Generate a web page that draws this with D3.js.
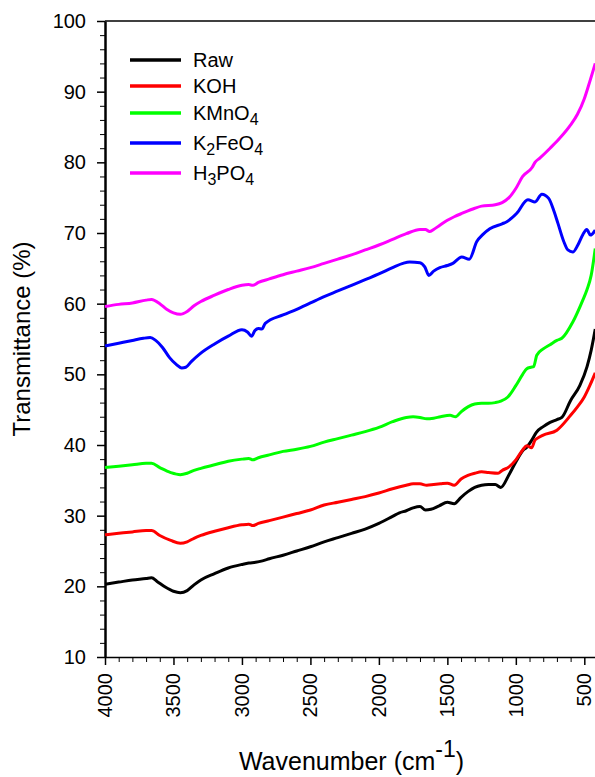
<!DOCTYPE html>
<html>
<head>
<meta charset="utf-8">
<script src="https://cdn.jsdelivr.net/npm/d3@7"></script>
<style>
  body { margin: 0; background: #fff; }
  text { font-family: "Liberation Sans", Arial, sans-serif; fill: #000; }
</style>
</head>
<body>
<div id="chart"></div>
<script>
// ---- data (wavenumber cm-1, transmittance %) ----
const rawData = [
  [4000, 20.3], [3900, 20.6], [3800, 20.9], [3700, 21.1], [3660, 21.2], [3620, 20.7], [3560, 19.9],
  [3500, 19.3], [3450, 19.1], [3400, 19.4], [3350, 20.2], [3300, 20.9], [3200, 21.8], [3100, 22.6],
  [3000, 23.1], [2950, 23.3], [2900, 23.4], [2850, 23.6], [2800, 23.9], [2700, 24.4], [2600, 25.0],
  [2500, 25.6], [2400, 26.3], [2300, 26.9], [2200, 27.5], [2100, 28.1], [2000, 28.9], [1900, 29.9],
  [1850, 30.4], [1800, 30.7], [1750, 31.1], [1700, 31.3], [1660, 30.8], [1620, 30.9], [1560, 31.4],
  [1500, 31.9], [1450, 31.7], [1400, 32.6], [1350, 33.4], [1300, 34.0], [1250, 34.3], [1200, 34.4],
  [1150, 34.4], [1110, 34.0], [1050, 35.8], [1000, 37.6], [950, 39.2], [920, 39.7], [880, 40.8],
  [850, 41.8], [800, 42.6], [750, 43.2], [700, 43.6], [664, 43.9], [600, 46.3], [533, 48.4],
  [480, 51.1], [450, 53.4], [420, 56.4]
];
const kohData = [
  [4000, 27.3], [3900, 27.5], [3800, 27.7], [3700, 27.9], [3660, 27.9], [3600, 27.2], [3520, 26.5],
  [3450, 26.1], [3400, 26.3], [3350, 26.8], [3300, 27.2], [3200, 27.8], [3100, 28.3], [3000, 28.7],
  [2950, 28.8], [2920, 28.6], [2880, 28.9], [2800, 29.3], [2700, 29.8], [2600, 30.3], [2500, 30.8],
  [2400, 31.5], [2300, 31.9], [2200, 32.3], [2100, 32.7], [2000, 33.2], [1900, 33.8], [1800, 34.3],
  [1750, 34.5], [1700, 34.5], [1650, 34.3], [1600, 34.4], [1550, 34.5], [1500, 34.6], [1450, 34.3],
  [1400, 35.2], [1350, 35.7], [1300, 36.0], [1250, 36.2], [1200, 36.1], [1130, 36.0], [1100, 36.4],
  [1050, 36.9], [1000, 37.9], [950, 39.3], [920, 39.9], [885, 39.6], [860, 40.7], [847, 40.9],
  [800, 41.4], [700, 42.1], [600, 44.2], [550, 45.4], [500, 46.8], [460, 48.4], [420, 50.2]
];
const kmno4Data = [
  [4000, 36.8], [3900, 37.0], [3800, 37.2], [3700, 37.4], [3660, 37.4], [3600, 36.8], [3520, 36.1],
  [3450, 35.8], [3400, 36.0], [3350, 36.4], [3300, 36.7], [3200, 37.2], [3100, 37.7], [3000, 38.0],
  [2950, 38.1], [2920, 37.9], [2880, 38.2], [2800, 38.6], [2700, 39.1], [2600, 39.4], [2500, 39.8],
  [2400, 40.4], [2300, 40.9], [2200, 41.4], [2100, 41.9], [2000, 42.5], [1900, 43.3], [1800, 43.9],
  [1750, 44.0], [1700, 43.9], [1650, 43.7], [1600, 43.8], [1550, 44.0], [1480, 44.2], [1440, 44.0],
  [1400, 44.7], [1350, 45.4], [1300, 45.8], [1250, 45.9], [1200, 45.9], [1150, 46.0], [1110, 46.2],
  [1058, 46.8], [1000, 48.4], [950, 50.0], [920, 50.8], [890, 51.0], [870, 51.1], [847, 52.7],
  [800, 53.6], [750, 54.2], [700, 54.8], [664, 55.1], [584, 57.4], [511, 60.5], [480, 62.0],
  [450, 64.0], [420, 67.8]
];
const k2feo4Data = [
  [4000, 54.0], [3900, 54.4], [3800, 54.8], [3720, 55.1], [3670, 55.2], [3630, 54.8], [3580, 53.8],
  [3530, 52.4], [3480, 51.4], [3440, 50.9], [3410, 51.0], [3370, 51.8], [3307, 52.9], [3200, 54.3],
  [3100, 55.4], [3000, 56.3], [2960, 56.0], [2930, 55.4], [2905, 56.2], [2880, 56.5], [2855, 56.4],
  [2830, 57.2], [2700, 58.4], [2600, 59.2], [2500, 60.1], [2400, 61.0], [2300, 61.8], [2200, 62.6],
  [2100, 63.4], [2000, 64.2], [1900, 65.1], [1825, 65.7], [1775, 65.9], [1700, 65.8], [1665, 65.2],
  [1635, 64.0], [1600, 64.6], [1555, 65.1], [1500, 65.4], [1460, 65.7], [1395, 66.6], [1340, 66.3],
  [1285, 68.8], [1240, 69.8], [1190, 70.6], [1100, 71.3], [1066, 71.6], [993, 72.8], [912, 74.7],
  [860, 74.4], [810, 75.5], [760, 74.9], [720, 73.0], [693, 71.4], [650, 68.8], [620, 67.6],
  [584, 67.3], [547, 68.3], [510, 69.8], [482, 70.5], [455, 69.7], [420, 70.4]
];
const h3po4Data = [
  [4000, 59.6], [3900, 59.9], [3800, 60.1], [3700, 60.5], [3660, 60.6], [3600, 60.0], [3550, 59.2],
  [3500, 58.7], [3450, 58.5], [3400, 58.9], [3350, 59.7], [3300, 60.3], [3200, 61.2], [3100, 62.0],
  [3000, 62.6], [2950, 62.7], [2920, 62.6], [2880, 63.0], [2800, 63.5], [2700, 64.1], [2600, 64.6],
  [2500, 65.1], [2400, 65.7], [2300, 66.3], [2200, 66.9], [2100, 67.6], [2000, 68.3], [1900, 69.1],
  [1800, 69.9], [1700, 70.5], [1660, 70.5], [1630, 70.2], [1600, 70.5], [1555, 71.1], [1500, 71.8],
  [1450, 72.3], [1390, 72.8], [1300, 73.5], [1250, 73.8], [1150, 74.0], [1100, 74.3], [1050, 75.0],
  [1000, 76.3], [950, 78.0], [880, 79.3], [860, 80.0], [825, 80.6], [750, 82.0], [680, 83.4],
  [600, 85.3], [550, 86.8], [500, 89.0], [470, 90.8], [420, 94.0]
];

const seriesNames = ["Raw", "KOH", "KMnO4", "K2FeO4", "H3PO4"];
const seriesData = [rawData, kohData, kmno4Data, k2feo4Data, h3po4Data];
const seriesColors = ["#000000", "#ff0000", "#00ff00", "#0000ff", "#ff00ff"];
// legend labels split into [text, isSubscript] parts
const legendParts = [
  [["Raw", false]],
  [["KOH", false]],
  [["KMnO", false], ["4", true]],
  [["K", false], ["2", true], ["FeO", false], ["4", true]],
  [["H", false], ["3", true], ["PO", false], ["4", true]]
];

const xMajor = d3.range(4000, 499, -500);
const xMinor = d3.range(4000, 399, -100).filter(v => v % 500 !== 0);
const yMajor = d3.range(10, 101, 10);
const yMinor = d3.range(10, 100, 2).filter(v => v % 10 !== 0);

// ---- layout ----
const width = 595, height = 777;
const mLeft = 105, mRight = 598, mTop = 21, mBottom = 657;

const svg = d3.select("#chart").append("svg")
    .attr("width", width)
    .attr("height", height);

svg.append("rect").attr("width", width).attr("height", height).attr("fill", "#fff");

const x = d3.scaleLinear().domain([4000, 400]).range([mLeft, mRight]);
const y = d3.scaleLinear().domain([10, 100]).range([mBottom, mTop]);

// top frame line
svg.append("line")
    .attr("x1", mLeft).attr("x2", mRight)
    .attr("y1", mTop).attr("y2", mTop)
    .attr("stroke", "#000").attr("stroke-width", 1.5);

// minor ticks
svg.append("g")
    .attr("transform", `translate(0,${mBottom})`)
    .call(d3.axisBottom(x).tickValues(xMinor).tickSize(5).tickSizeOuter(0).tickFormat(""))
    .call(g => g.select(".domain").remove());
svg.append("g")
    .attr("transform", `translate(${mLeft},0)`)
    .call(d3.axisLeft(y).tickValues(yMinor).tickSize(5).tickSizeOuter(0).tickFormat(""))
    .call(g => g.select(".domain").remove());

// x axis
const xAxis = svg.append("g")
    .attr("transform", `translate(0,${mBottom})`)
    .call(d3.axisBottom(x).tickValues(xMajor).tickSize(8).tickSizeOuter(0).tickFormat(d3.format("d")));
xAxis.select(".domain").attr("stroke-width", 1.5);
xAxis.selectAll(".tick line").attr("stroke-width", 1.5);
xAxis.selectAll("text")
    .attr("transform", "rotate(-90)")
    .attr("text-anchor", "end")
    .attr("x", -16)
    .attr("y", 0)
    .attr("dy", "0.32em")
    .style("font-size", "20px");

// y axis
const yAxis = svg.append("g")
    .attr("transform", `translate(${mLeft},0)`)
    .call(d3.axisLeft(y).tickValues(yMajor).tickSize(8).tickPadding(11).tickSizeOuter(0));
yAxis.select(".domain").attr("stroke-width", 2.5);
yAxis.selectAll(".tick line").attr("stroke-width", 1.5);
yAxis.selectAll("text").style("font-size", "20px");

svg.selectAll(".tick text").style("font-family", '"Liberation Sans", Arial, sans-serif');

// axis titles
svg.append("text")
    .attr("transform", `translate(30,${(mTop + mBottom) / 2}) rotate(-90)`)
    .attr("text-anchor", "middle")
    .style("font-size", "24px")
    .text("Transmittance (%)");

const xTitle = svg.append("text")
    .attr("x", (mLeft + mRight) / 2)
    .attr("y", 770)
    .attr("text-anchor", "middle")
    .style("font-size", "25px");
xTitle.append("tspan").text("Wavenumber (cm");
xTitle.append("tspan").attr("dy", -13).style("font-size", "23px").text("-1");
xTitle.append("tspan").attr("dy", 13).text(")");

// spectra
const line = d3.line()
    .x(d => x(d[0]))
    .y(d => y(d[1]))
    .curve(d3.curveMonotoneX);

svg.append("g")
    .selectAll("path")
    .data(seriesData)
    .join("path")
    .attr("d", line)
    .attr("fill", "none")
    .attr("stroke", (d, i) => seriesColors[i])
    .attr("stroke-width", 3)
    .attr("stroke-linejoin", "round");

// legend
const legendY = [60, 86, 113, 143, 173];
const legend = svg.selectAll(".legend")
    .data(seriesNames)
    .join("g")
    .attr("class", "legend")
    .attr("transform", (d, i) => `translate(130,${legendY[i]})`);

legend.append("line")
    .attr("x1", 0).attr("x2", 51)
    .attr("stroke", (d, i) => seriesColors[i])
    .attr("stroke-width", 3.5);

legend.append("text")
    .attr("x", 63)
    .attr("y", 7)
    .style("font-size", "20px")
    .each(function(d, i) {
        const t = d3.select(this);
        let shifted = false;
        legendParts[i].forEach(([s, sub]) => {
            const ts = t.append("tspan").text(s);
            if (sub) {
                ts.style("font-size", "16px");
                if (!shifted) { ts.attr("dy", 5); shifted = true; }
            } else if (shifted) {
                ts.attr("dy", -5);
                shifted = false;
            }
        });
    });
</script>
</body>
</html>
